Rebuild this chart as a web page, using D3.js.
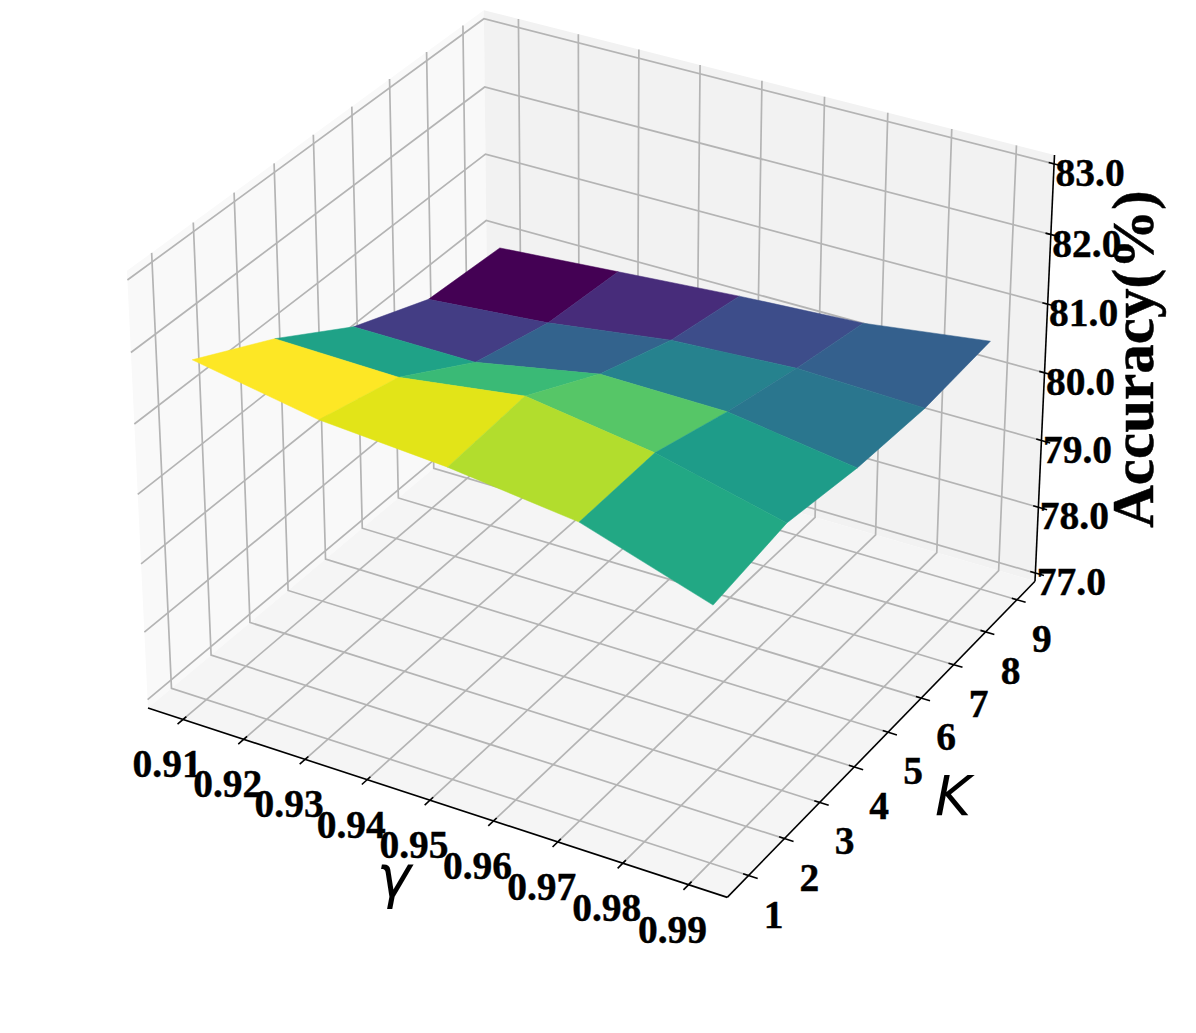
<!DOCTYPE html>
<html>
<head>
<meta charset="utf-8">
<script src="https://cdn.jsdelivr.net/npm/d3@7"></script>
<style>
body { margin: 0; background: #fff; }
text { font-family: "Liberation Serif", serif; font-weight: bold; fill: #000; }
</style>
</head>
<body>
<div id="chart"></div>
<script>
// surface values, one row per K
const gammaValues = [0.91, 0.93, 0.95, 0.97, 0.99];
const kValues = [1, 3, 5, 7, 9];
const accK1 = [81.79, 81.47, 81.34, 81.12, 80.53];
const accK3 = [81.21, 81.17, 81.42, 81.15, 80.71];
const accK5 = [80.51, 80.50, 80.84, 80.82, 80.55];
const accK7 = [80.05, 80.20, 80.45, 80.55, 80.49];
const accK9 = [79.97, 80.10, 80.23, 80.33, 80.57];
const accuracy = [accK1, accK3, accK5, accK7, accK9];

const gammaTicks = [0.91, 0.92, 0.93, 0.94, 0.95, 0.96, 0.97, 0.98, 0.99];
const kTicks = [1, 2, 3, 4, 5, 6, 7, 8, 9];
const accTicks = [77, 78, 79, 80, 81, 82, 83];

// axis limits incl. the 3d view margin
const gammaLim = [0.90417, 0.99583];
const kLim = [0.41667, 9.58333];
const accLim = [76.875, 83.125];

const width = 1196, height = 1033;

// box aspect 4:4:3, elev 30 azim -60, dist 10
const boxK = 1.8294640721620434 * 25 / 24 / Math.sqrt(41);
const box = [4 * boxK, 4 * boxK, 3 * boxK];
const elev = 30 * Math.PI / 180, azim = -60 * Math.PI / 180;
const dist = 10;
const w = [Math.cos(elev) * Math.cos(azim), Math.cos(elev) * Math.sin(azim), Math.sin(elev)];
const u = [-Math.sin(azim), Math.cos(azim), 0];
const v = [w[1] * u[2] - w[2] * u[1], w[2] * u[0] - w[0] * u[2], w[0] * u[1] - w[1] * u[0]];
const dot = (a, b) => a[0] * b[0] + a[1] * b[1] + a[2] * b[2];

const gx = d3.scaleLinear().domain(gammaLim).range([0, 1]);
const gy = d3.scaleLinear().domain(kLim).range([0, 1]);
const gz = d3.scaleLinear().domain(accLim).range([0, 1]);

// p is in box fractions 0..1
function centered(p) {
    return [(p[0] - 0.5) * box[0], (p[1] - 0.5) * box[1], (p[2] - 0.5) * box[2]];
}
function proj(p) {
    const q = centered(p);
    const d = dist - dot(w, q);
    return [dot(u, q) / d, dot(v, q) / d];
}

// screen scales, pinned on the box corners
const sx = d3.scaleLinear()
    .domain([proj([0, 0, 0])[0], proj([1, 1, 0])[0]])
    .range([148, 1035]);
const sy = d3.scaleLinear()
    .domain([proj([0, 0, 0])[1], proj([1, 1, 1])[1]])
    .range([708, 155]);

function pt(p) {
    const r = proj(p);
    return [sx(r[0]), sy(r[1])];
}
const line3 = d3.line();
const path3 = pts => line3(pts.map(pt));

const svg = d3.select("#chart").append("svg")
    .attr("width", width)
    .attr("height", height)
    .style("display", "block");

// panes
const panes = [
    { c: "#f9f9f9", p: [[0, 0, 0], [0, 1, 0], [0, 1, 1], [0, 0, 1]] },
    { c: "#f2f2f2", p: [[0, 1, 0], [1, 1, 0], [1, 1, 1], [0, 1, 1]] },
    { c: "#f5f5f5", p: [[0, 0, 0], [1, 0, 0], [1, 1, 0], [0, 1, 0]] }
];
svg.append("g").selectAll("path")
    .data(panes)
    .enter().append("path")
    .attr("d", d => path3(d.p) + "Z")
    .attr("fill", d => d.c);

// gridlines
const grid = svg.append("g")
    .attr("fill", "none")
    .attr("stroke", "#b4b4b4")
    .attr("stroke-width", 1.7);
gammaTicks.forEach(t => {
    const x = gx(t);
    grid.append("path").attr("d", path3([[x, 0, 0], [x, 1, 0], [x, 1, 1]]));
});
kTicks.forEach(t => {
    const y = gy(t);
    grid.append("path").attr("d", path3([[1, y, 0], [0, y, 0], [0, y, 1]]));
});
accTicks.forEach(t => {
    const z = gz(t);
    grid.append("path").attr("d", path3([[0, 0, z], [0, 1, z], [1, 1, z]]));
});

// axis lines and tick marks
const tickIn = 0.009, tickOut = 0.015;
const axes = svg.append("g")
    .attr("fill", "none")
    .attr("stroke", "#000")
    .attr("stroke-width", 1.6);
axes.append("path").attr("d", path3([[0, 0, 0], [1, 0, 0]]));
axes.append("path").attr("d", path3([[1, 0, 0], [1, 1, 0]]));
axes.append("path").attr("d", path3([[1, 1, 0], [1, 1, 1]]));
gammaTicks.forEach(t => {
    const x = gx(t);
    axes.append("path").attr("d", path3([[x, tickIn, 0], [x, -tickOut, 0]]));
});
kTicks.forEach(t => {
    const y = gy(t);
    axes.append("path").attr("d", path3([[1 - tickIn, y, 0], [1 + tickOut, y, 0]]));
});
accTicks.forEach(t => {
    const z = gz(t);
    axes.append("path").attr("d", path3([[1 - tickIn, 1, z], [1 + tickOut, 1, z]]));
});

// surface cells, coloured by mean height
const cells = [];
for (let j = 0; j < kValues.length - 1; j++) {
    for (let i = 0; i < gammaValues.length - 1; i++) {
        const corners = [[i, j], [i + 1, j], [i + 1, j + 1], [i, j + 1]]
            .map(c => [gx(gammaValues[c[0]]), gy(kValues[c[1]]), gz(accuracy[c[1]][c[0]])]);
        cells.push({
            corners: corners,
            mean: d3.mean(corners, c => gz.invert(c[2])),
            depth: d3.mean(corners, c => dot(w, centered(c)))
        });
    }
}
cells.sort((a, b) => a.depth - b.depth);
const color = d3.scaleSequential(d3.interpolateViridis)
    .domain(d3.extent(cells, d => d.mean));
svg.append("g").selectAll("path")
    .data(cells)
    .enter().append("path")
    .attr("d", d => path3(d.corners) + "Z")
    .attr("fill", d => color(d.mean))
    .attr("stroke", d => color(d.mean))
    .attr("stroke-width", 0.5);

// tick labels, fixed pixel offset from their tick
function tickLabels(ticks, pos, dx, dy, fmt) {
    svg.append("g").selectAll("text")
        .data(ticks)
        .enter().append("text")
        .attr("x", d => pt(pos(d))[0] + dx)
        .attr("y", d => pt(pos(d))[1] + dy)
        .attr("dy", "0.33em")
        .attr("text-anchor", "middle")
        .attr("font-size", 39.5)
        .attr("stroke", "#000")
        .attr("stroke-width", 0.4)
        .text(fmt);
}
tickLabels(gammaTicks, t => [gx(t), 0, 0], -16, 45, d3.format(".2f"));
tickLabels(kTicks, t => [1, gy(t), 0], 25, 39, d3.format("d"));
tickLabels(accTicks, t => [1, 1, gz(t)], 36, 9, d3.format(".1f"));

// axis titles
svg.append("text")
    .attr("x", 394)
    .attr("y", 897)
    .attr("text-anchor", "middle")
    .attr("font-size", 58)
    .style("font-family", "'DejaVu Sans'")
    .style("font-weight", "normal")
    .style("font-style", "italic")
    .text("γ");
svg.append("text")
    .attr("x", 953)
    .attr("y", 815)
    .attr("text-anchor", "middle")
    .attr("font-size", 55)
    .style("font-family", "'DejaVu Sans'")
    .style("font-weight", "normal")
    .style("font-style", "italic")
    .text("K");
svg.append("text")
    .attr("transform", "translate(1153,359) rotate(-90)")
    .attr("text-anchor", "middle")
    .attr("font-size", 59)
    .attr("stroke", "#000")
    .attr("stroke-width", 0.5)
    .text("Accuracy(%)");
</script>
</body>
</html>
